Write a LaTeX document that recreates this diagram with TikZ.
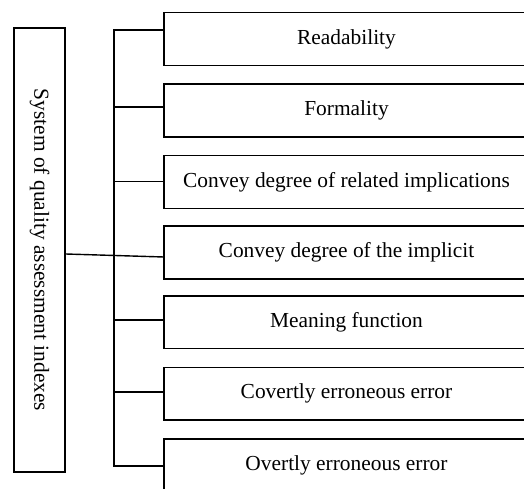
\documentclass[tikz,border=0pt]{standalone}
\usepackage{fontspec}
\setmainfont{Liberation Serif}
\begin{document}
\begin{tikzpicture}[x=1pt,y=1pt,
  every node/.style={font=\fontsize{21.4}{25}\selectfont},
  itembox/.style={minimum width=365pt, minimum height=52.5pt, inner sep=0pt},
  boxline/.style={line width=1.4pt},
  mainbox/.style={draw, line width=1.4pt, rotate=-90, minimum width=444pt, minimum height=51pt, inner sep=0pt},
  link/.style={line width=1.4pt}]
\useasboundingbox (0,0) rectangle (524,489);
\clip (0,0) rectangle (524,489);
\node[mainbox] (main) at (39.5,239) {System of quality assessment indexes};
\foreach \n/\y/\t in {b1/449.75/Readability, b2/378.5/Formality,
    b3/307/Convey degree of related implications, b4/236.5/Convey degree of the implicit,
    b5/166.7/Meaning function, b6/95.3/Covertly erroneous error, b7/23.5/Overtly erroneous error}{
  \node[itembox] (\n) at (346.5,\y) {\t};
  \draw[boxline] ([xshift=40pt]\n.north east) -- (\n.north west) -- (\n.south west) -- ([xshift=40pt]\n.south east);
}
\coordinate (s1) at (114,459);
\coordinate (s2) at (114,382);
\coordinate (s3) at (114,307.5);
\coordinate (s5) at (114,169);
\coordinate (s6) at (114,97);
\coordinate (s7) at (114,23);
\draw[link] (s1 -| b1.west) -- (s1) -- (s7) -- (s7 -| b7.west);
\draw[link] (s2) -- (s2 -| b2.west);
\draw[link] (s3) -- (s3 -| b3.west);
\draw[link] (s5) -- (s5 -| b5.west);
\draw[link] (s6) -- (s6 -| b6.west);
\draw[link] (main.north) ++(0,-4) -- ([yshift=-4.5pt]b4.west);
\end{tikzpicture}
\end{document}
